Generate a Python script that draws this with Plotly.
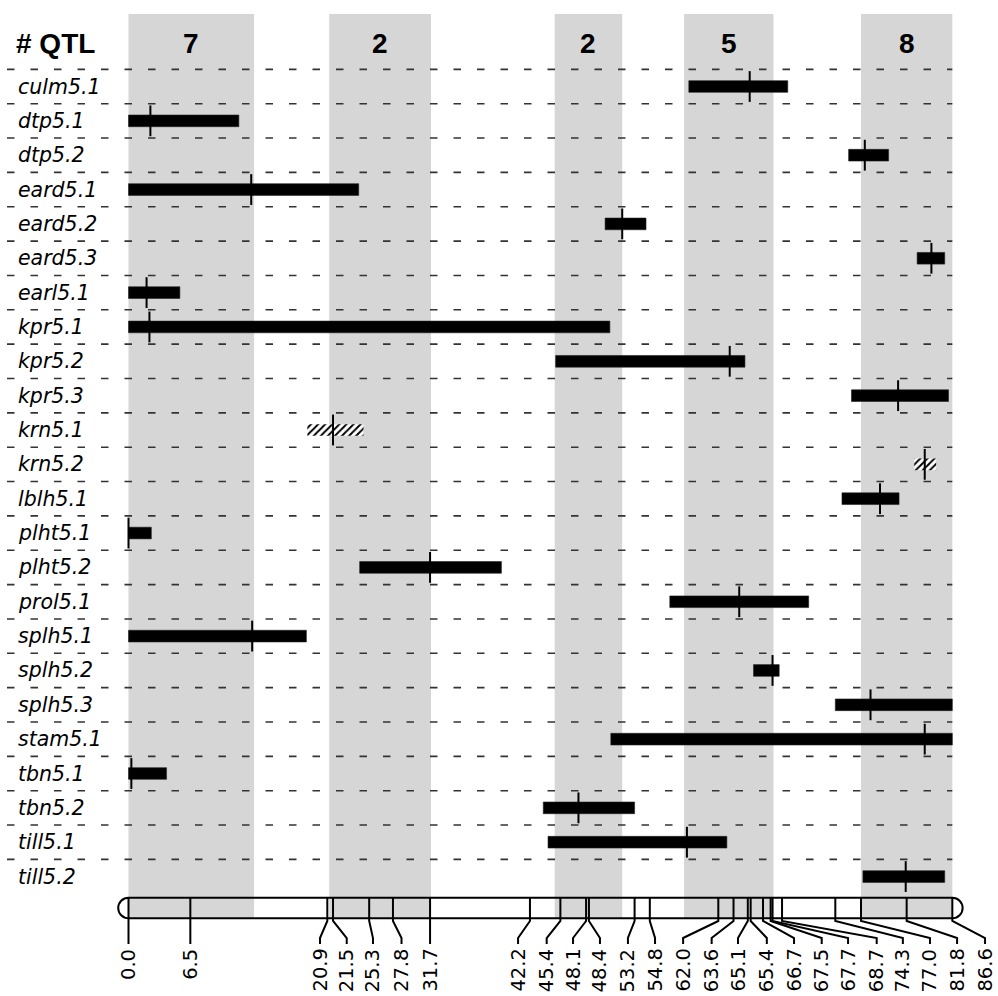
import plotly.graph_objects as go

# ---------------- data ----------------
qtl_names = ["culm5.1", "dtp5.1", "dtp5.2", "eard5.1", "eard5.2", "eard5.3", "earl5.1",
             "kpr5.1", "kpr5.2", "kpr5.3", "krn5.1", "krn5.2", "lblh5.1", "plht5.1",
             "plht5.2", "prol5.1", "splh5.1", "splh5.2", "splh5.3", "stam5.1", "tbn5.1",
             "tbn5.2", "till5.1", "till5.2"]
qtl_start = [58.9, 0.0, 75.7, 0.0, 50.1, 82.9, 0.0, 0.0, 44.9, 76.0, 18.8, 82.6, 75.0, 0.0,
             24.3, 56.9, 0.0, 65.7, 74.3, 50.7, 0.0, 43.6, 44.1, 77.2]
qtl_end = [69.3, 11.6, 79.9, 24.2, 54.4, 85.8, 5.4, 50.6, 64.8, 86.2, 24.7, 84.9, 81.0, 2.4,
           39.2, 71.5, 18.7, 68.4, 86.6, 86.6, 4.0, 53.2, 62.9, 85.8]
qtl_peak = [65.3, 2.3, 77.4, 12.9, 51.9, 84.4, 1.9, 2.2, 63.2, 80.9, 21.5, 83.7, 79.0, 0.0,
            31.7, 64.2, 13.0, 67.7, 78.0, 83.7, 0.3, 47.3, 58.7, 81.7]
qtl_hatched = [False, False, False, False, False, False, False, False, False, False, True, True,
               False, False, False, False, False, False, False, False, False, False, False, False]

markers_cm = [0.0, 6.5, 20.9, 21.5, 25.3, 27.8, 31.7, 42.2, 45.4, 48.1, 48.4, 53.2, 54.8,
              62.0, 63.6, 65.1, 65.4, 66.7, 67.5, 67.7, 68.7, 74.3, 77.0, 81.8, 86.6]
# positions at which the (spread-out) marker labels are written
label_cm = [0.0, 6.5, 20.13, 22.94, 25.7, 28.7, 31.7, 40.95, 43.96, 46.73, 49.56, 52.5,
            55.35, 58.3, 61.3, 64.07, 67.1, 69.96, 72.87, 75.64, 78.65, 81.4, 84.25, 87.1, 90.04]

bin_start = [0.0, 21.1, 44.8, 58.4, 77.0]
bin_end = [13.2, 31.8, 51.9, 67.8, 86.6]
bin_count = [7, 2, 2, 5, 8]

# ---------------- geometry / style ----------------
W, H = 998, 996
PX_PER_CM = 9.513
X0_PX = 128.5
ROW_PX = 34.35
ROW0_PX = 86.5

def py(p):  # pixel row -> y data
    return (p - ROW0_PX) / ROW_PX

def pxc(p):  # pixel col -> x data
    return (p - X0_PX) / PX_PER_CM

n = len(qtl_names)
rows = list(range(n))
chrom_len = max(markers_cm)

x_range = [pxc(0), pxc(W)]
y_range = [py(H), py(0)]

chr_top, chr_bot = py(897.7), py(918.3)
chr_mid = (chr_top + chr_bot) / 2
ry = (chr_bot - chr_top) / 2
rx = 10.3 / PX_PER_CM
K = 0.5523

fig = go.Figure()

# shaded bins
shapes = []
for s, e in zip(bin_start, bin_end):
    shapes.append(dict(type="rect", xref="x", yref="y", x0=s, x1=e, y0=py(14), y1=chr_bot,
                       fillcolor="#d6d6d6", line=dict(width=0), layer="below"))

# chromosome outline with rounded ends
L = chrom_len
path = (f"M 0,{chr_top} L {L},{chr_top} "
        f"C {L + K*rx},{chr_top} {L + rx},{chr_mid - K*ry} {L + rx},{chr_mid} "
        f"C {L + rx},{chr_mid + K*ry} {L + K*rx},{chr_bot} {L},{chr_bot} "
        f"L 0,{chr_bot} "
        f"C {-K*rx},{chr_bot} {-rx},{chr_mid + K*ry} {-rx},{chr_mid} "
        f"C {-rx},{chr_mid - K*ry} {-K*rx},{chr_top} 0,{chr_top} Z")
shapes.append(dict(type="path", xref="x", yref="y", path=path,
                   line=dict(color="black", width=2), fillcolor="rgba(0,0,0,0)"))

# dashed row separators
dx, dy = [], []
for r in rows:
    dx += [pxc(7), chrom_len, None]
    dy += [r - 0.5, r - 0.5, None]
fig.add_trace(go.Scatter(x=dx, y=dy, mode="lines", hoverinfo="skip",
                         line=dict(color="#333333", width=1.6, dash="7.5px,16px")))

# QTL bars (solid)
solid = [i for i in rows if not qtl_hatched[i]]
hatch = [i for i in rows if qtl_hatched[i]]
fig.add_trace(go.Bar(orientation="h", y=solid,
                     x=[qtl_end[i] - qtl_start[i] for i in solid],
                     base=[qtl_start[i] for i in solid], width=0.34,
                     marker=dict(color="black", line=dict(color="#222222", width=0.6))))
fig.add_trace(go.Bar(orientation="h", y=hatch,
                     x=[qtl_end[i] - qtl_start[i] for i in hatch],
                     base=[qtl_start[i] for i in hatch], width=0.34,
                     marker=dict(color="white", line=dict(width=0),
                                 pattern=dict(shape="/", fgcolor="black", bgcolor="white",
                                              size=5, solidity=0.4, fillmode="replace"))))

# peak ticks
fig.add_trace(go.Scatter(x=qtl_peak, y=rows, mode="markers", hoverinfo="skip",
                         marker=dict(symbol="line-ns", size=22,
                                     line=dict(color="black", width=2))))

# marker lines inside chromosome and connectors to labels
mx, my = [], []
for m, lab in zip(markers_cm, label_cm):
    mx += [m, m, m, lab, lab, None]
    my += [chr_top, chr_bot, py(921), py(938), py(944), None]
fig.add_trace(go.Scatter(x=mx, y=my, mode="lines", hoverinfo="skip",
                         line=dict(color="black", width=2)))

annotations = []
# marker labels
for m, lab in zip(markers_cm, label_cm):
    annotations.append(dict(x=lab, y=py(947), xref="x", yref="y", text=f"{m:.1f}",
                            textangle=-90, xanchor="center", yanchor="top", showarrow=False,
                            font=dict(family="DejaVu Sans", size=19.5, color="black")))
# row labels
for r, name in zip(rows, qtl_names):
    annotations.append(dict(x=15.5 / W, y=r, xref="paper", yref="y", text=name,
                            xanchor="left", yanchor="middle", showarrow=False,
                            font=dict(family="DejaVu Sans", size=20.5, color="black",
                                      style="italic")))
# bin counts
for s, e, c in zip(bin_start, bin_end, bin_count):
    annotations.append(dict(x=(s + e) / 2, y=py(43.7), xref="x", yref="y", text=str(c),
                            xanchor="center", yanchor="middle", showarrow=False,
                            font=dict(family="Liberation Sans", size=28, color="black",
                                      weight="bold")))
annotations.append(dict(x=14 / W, y=py(43.7), xref="paper", yref="y", text="# QTL",
                        xanchor="left", yanchor="middle", showarrow=False,
                        font=dict(family="Liberation Sans", size=28, color="black",
                                  weight="bold")))

fig.update_layout(
    width=W, height=H, autosize=False,
    margin=dict(l=0, r=0, t=0, b=0, pad=0),
    paper_bgcolor="white", plot_bgcolor="white",
    showlegend=False, barmode="overlay",
    shapes=shapes, annotations=annotations,
    xaxis=dict(range=x_range, visible=False, fixedrange=True),
    yaxis=dict(range=y_range, visible=False, fixedrange=True),
)

fig.write_html("out.html")
